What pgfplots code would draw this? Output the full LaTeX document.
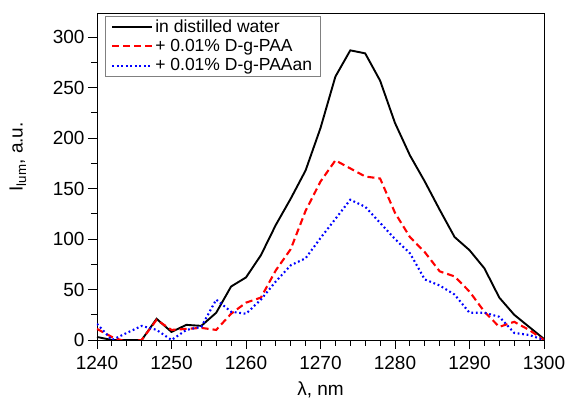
\documentclass[border=0pt]{standalone}
\usepackage{fontspec}
\setmainfont{Liberation Sans}
\usepackage{pgfplots}
\pgfplotsset{compat=1.18}

\pgfplotstableread{
x y
1240 3
1242 0
1244 0
1246 0
1248 21
1250 8
1252 15
1254 14
1256 27
1258 53
1260 62
1262 84
1264 114
1266 140
1268 168
1270 210
1272 261
1274 287
1276 284
1278 257
1280 215
1282 183
1284 157
1286 129
1288 102
1290 89
1292 71
1294 42
1296 25
1298 13
1300 1
}\water

\pgfplotstableread{
x y
1240 11
1242 3
1244 -2
1246 0
1248 20
1250 10
1252 11
1254 12
1256 10
1258 26
1260 37
1262 42
1264 69
1266 90
1268 128
1270 157
1272 178
1274 170
1276 162
1278 160
1280 126
1282 102
1284 87
1286 68
1288 63
1290 48
1292 28
1294 13
1296 18
1298 10
1300 0
}\paa

\pgfplotstableread{
x y
1240 16
1242 0
1244 7
1246 14
1248 10
1250 0
1252 10
1254 13
1256 40
1258 28
1260 26
1262 40
1264 58
1266 74
1268 81
1270 101
1272 120
1274 139
1276 132
1278 116
1280 100
1282 86
1284 60
1286 54
1288 45
1290 27
1292 27
1294 23
1296 7
1298 5
1300 0
}\paaan

\begin{document}
\begin{tikzpicture}
\begin{axis}[
  scale only axis,
  width=447pt, height=327pt,
  xmin=1240, xmax=1300,
  ymin=0, ymax=324,
  xtick={1240,1250,...,1300},
  ytick={0,50,...,300},
  minor x tick num=4,
  minor y tick num=1,
  tick pos=left,
  tick align=outside,
  major tick length=9pt,
  minor tick length=6pt,
  tick style={black, line width=0.9pt},
  axis line style={line width=0.9pt},
  tick label style={font=\fontsize{19}{21}\selectfont},
  xticklabel style={yshift=-4pt},
  /pgf/number format/assume math mode=true,
  /pgf/number format/set thousands separator={},
  xlabel={λ, nm},
  ylabel={I\textsubscript{lum}, a.u.},
  every axis x label/.style={at={(axis description cs:0.5,0)}, anchor=north,
    yshift=-42pt, inner sep=0pt, font=\fontsize{19}{21}\selectfont},
  every axis y label/.style={at={(axis description cs:-0.177,0.56)}, anchor=center,
    rotate=90, font=\fontsize{19}{21}\selectfont},
  legend style={at={(0.018,0.992)}, anchor=north west,
    font=\fontsize{17.5}{20}\selectfont, draw=gray,
    row sep=1.5pt, inner xsep=6pt, inner ysep=2pt},
  legend cell align=left,
  legend image code/.code={\draw[#1] plot coordinates {(0pt,0pt) (20pt,0pt) (40pt,0pt)};},
]
\addplot[black, line width=1.9pt] table {\water};
\addlegendentry{in distilled water}
\addplot[red, line width=2.1pt, dash pattern=on 7pt off 4pt] table {\paa};
\addlegendentry{+ 0.01\% D-g-PAA}
\addplot[blue, line width=2.1pt, dash pattern=on 1.8pt off 2.7pt] table {\paaan};
\addlegendentry{+ 0.01\% D-g-PAAan}
\coordinate (ll) at (rel axis cs:0,0);
\coordinate (ur) at (rel axis cs:1,1);
\end{axis}
\pgfresetboundingbox
\path ([shift={(-97pt,-61pt)}]ll) rectangle ([shift={(24pt,13pt)}]ur);
\end{tikzpicture}
\end{document}
